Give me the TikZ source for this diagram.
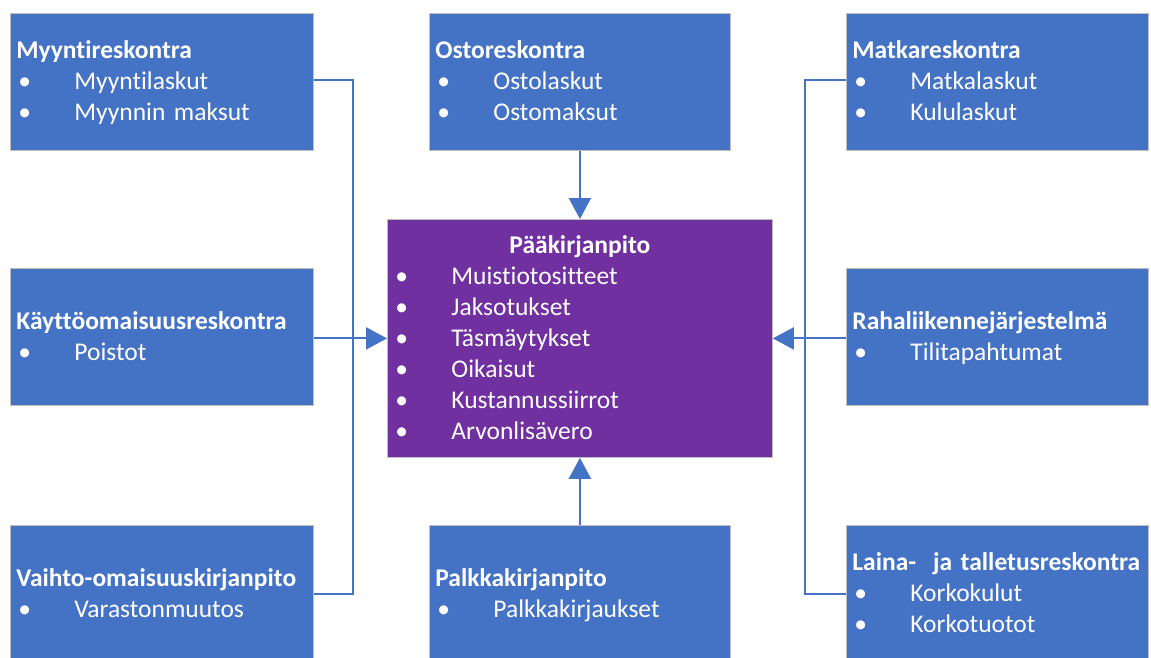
\documentclass[tikz,border=0pt]{standalone}
\usepackage{fontspec}
\setmainfont{Carlito}[RawFeature={-liga}]
\usetikzlibrary{arrows.meta}
\definecolor{boxblue}{HTML}{4472C4}
\definecolor{boxpurple}{HTML}{7030A0}
\definecolor{edgegray}{HTML}{BFBFBF}
\definecolor{linkblue}{HTML}{4472C4}
% fixed-height line so every block centres the same way
\newcommand\lstrut{\rule[-7pt]{0pt}{30pt}}
% heading line and bulleted line (bullet near the edge, text on a fixed tab)
\newcommand\bhead[1]{\lstrut\textbf{#1}}
\newcommand\bitem[1]{\lstrut\makebox[58pt][l]{\hspace{2pt}\textbullet}#1}
\begin{document}
\begin{tikzpicture}[x=1pt,y=-1pt,
  box/.style={rectangle, draw=edgegray, line width=0.8pt, fill=boxblue,
    text=white, anchor=north west, minimum height=137pt,
    inner xsep=6pt, inner ysep=0pt, align=left,
    font=\fontsize{25.5}{31}\selectfont},
  mainbox/.style={box, fill=boxpurple, minimum height=238pt},
  link/.style={draw=linkblue, line width=2pt},
  arrowlink/.style={link, -{Triangle[length=21pt,width=22pt]}}]
\useasboundingbox (0,0) rectangle (1151,657);

% feeder ledgers
\node[box, minimum width=303pt, text width=291pt] (myynti) at (10,13)
  {\bhead{Myyntireskontra}\\\bitem{Myyntilaskut}\\\bitem{Myynnin maksut}};
\node[box, minimum width=301pt, text width=289pt] (osto) at (429,13)
  {\bhead{Ostoreskontra}\\\bitem{Ostolaskut}\\\bitem{Ostomaksut}};
\node[box, minimum width=302pt, text width=290pt] (matka) at (846,13)
  {\bhead{Matkareskontra}\\\bitem{Matkalaskut}\\\bitem{Kululaskut}};
\node[box, minimum width=303pt, text width=291pt] (kaytto) at (10,268)
  {\bhead{Käyttöomaisuusreskontra}\\\bitem{Poistot}};
\node[box, minimum width=302pt, text width=290pt] (raha) at (846,268)
  {\bhead{Rahaliikennejärjestelmä}\\\bitem{Tilitapahtumat}};
\node[box, minimum width=303pt, text width=291pt] (vaihto) at (10,525)
  {\bhead{Vaihto-omaisuuskirjanpito}\\\bitem{Varastonmuutos}};
\node[box, minimum width=301pt, text width=289pt] (palkka) at (429,525)
  {\bhead{Palkkakirjanpito}\\\bitem{Palkkakirjaukset}};
\node[box, minimum width=302pt, text width=290pt] (laina) at (846,525)
  {\bhead{Laina-~ ja talletusreskontra}\\\bitem{Korkokulut}\\\bitem{Korkotuotot}};

% general ledger
\node[mainbox, minimum width=385pt, text width=373pt] (paa) at (387,219)
  {\makebox[373pt]{\bhead{Pääkirjanpito}}\\
   \bitem{Muistiotositteet}\\\bitem{Jaksotukset}\\\bitem{Täsmäytykset}\\
   \bitem{Oikaisut}\\\bitem{Kustannussiirrot}\\\bitem{Arvonlisävero}};

% collector lines on both sides
\coordinate (lbus) at (353,0);
\coordinate (rbus) at (805,0);
\draw[link] ([yshift=1.5pt]myynti.east) -- ([yshift=1.5pt]myynti.east -| lbus)
  -- (vaihto.east -| lbus) -- (vaihto.east);
\draw[link] ([yshift=1.5pt]matka.west) -- ([yshift=1.5pt]matka.west -| rbus)
  -- (laina.west -| rbus) -- (laina.west);

% arrows into the general ledger
\draw[arrowlink] (kaytto.east |- paa.west) -- (paa.west);
\draw[arrowlink] (raha.west |- paa.east) -- (paa.east);
\draw[arrowlink] (osto.south) -- (paa.north);
\draw[arrowlink] (palkka.north) -- (paa.south);
\end{tikzpicture}
\end{document}
